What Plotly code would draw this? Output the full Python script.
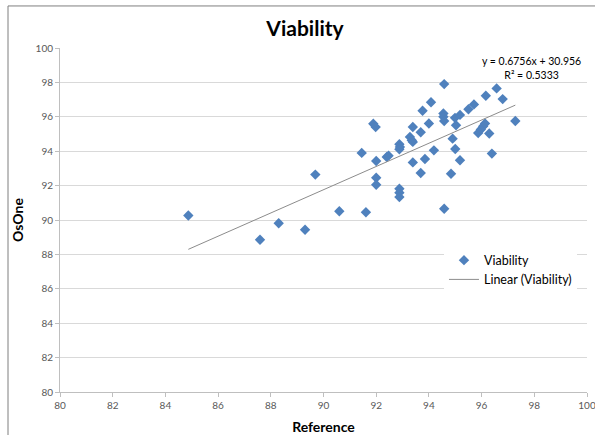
import plotly.graph_objects as go

# Data
reference = [84.87, 87.59, 88.30, 89.30, 89.69, 90.60, 91.61, 91.45, 91.89, 91.98,
             92.00, 92.00, 92.00, 92.40, 92.47, 92.88, 92.90, 92.88, 92.88, 92.88,
             92.88, 93.28, 93.35, 93.39, 93.39, 93.39, 93.69, 93.69, 93.76, 93.85,
             94.00, 94.08, 94.19, 94.58, 94.55, 94.55, 94.58, 94.58, 94.84, 94.90,
             94.99, 95.03, 95.00, 95.18, 95.18, 95.50, 95.71, 95.87, 95.97, 96.06,
             96.13, 96.16, 96.29, 96.39, 96.57, 96.80, 97.28]
osone = [90.26, 88.85, 89.81, 89.43, 92.64, 90.51, 90.45, 93.90, 95.60, 95.40,
         93.43, 92.46, 92.05, 93.66, 93.74, 94.40, 94.25, 94.11, 91.82, 91.59,
         91.33, 94.83, 94.64, 94.54, 95.41, 93.35, 95.10, 92.73, 96.35, 93.55,
         95.61, 96.85, 94.05, 97.90, 96.19, 96.00, 95.76, 90.65, 92.69, 94.73,
         95.94, 95.51, 94.13, 96.11, 93.47, 96.44, 96.72, 95.06, 95.26, 95.45,
         95.61, 97.22, 95.03, 93.86, 97.65, 97.03, 95.76]
SLOPE = 0.6756
INTERCEPT = 30.956
R2 = 0.5333
x_ticks = [80, 82, 84, 86, 88, 90, 92, 94, 96, 98, 100]
y_ticks = [80, 82, 84, 86, 88, 90, 92, 94, 96, 98, 100]

FONT = "Lato, 'Open Sans', sans-serif"
TXT = "#595959"

trend_x = [min(reference), max(reference)]
trend_y = [SLOPE * v + INTERCEPT for v in trend_x]

fig = go.Figure()
fig.add_trace(go.Scatter(
    x=reference, y=osone, mode="markers", name="Viability",
    marker=dict(symbol="diamond", size=8, color="#4F81BD"),
))
fig.add_trace(go.Scatter(
    x=trend_x, y=trend_y, mode="lines", name="Linear (Viability)",
    line=dict(color="#8c8c8c", width=1),
))

axis_common = dict(
    showline=True, linecolor="#bfbfbf", linewidth=1,
    ticks="outside", ticklen=4, tickcolor="#bfbfbf",
    tickfont=dict(family=FONT, size=10, color=TXT),
    zeroline=False, ticklabeloverflow="allow", automargin=False,
)

fig.update_layout(
    width=595, height=435,
    margin=dict(l=60, r=8, t=48, b=43, autoexpand=False),
    paper_bgcolor="white", plot_bgcolor="white",
    title=dict(text="<b>Viability</b>", x=305 / 595, xref="container",
               y=1 - 29 / 435, yref="container", xanchor="center", yanchor="middle",
               font=dict(family=FONT, size=21, color="black")),
    xaxis=dict(range=[80, 100], tickvals=x_ticks, showgrid=False,
               title=dict(text="<b>Reference</b>", standoff=12,
                          font=dict(family=FONT, size=14, color="black")),
               **axis_common),
    yaxis=dict(range=[80, 100], tickvals=y_ticks, showgrid=True,
               gridcolor="#d9d9d9", gridwidth=1,
               title=dict(text="<b>OsOne</b>", standoff=8,
                          font=dict(family=FONT, size=14, color="black")),
               **axis_common),
    legend=dict(x=0.74 - 6 / 527, y=0.42 + 2 / 343.7, xanchor="left", yanchor="top",
                bgcolor="white", borderwidth=0,
                font=dict(family=FONT, size=12.5, color="black"),
                itemwidth=30, tracegroupgap=0),
    showlegend=True,
)

fig.add_annotation(
    x=0.885 + 5 / 527, y=0.975 - 11 / 343.7, xref="paper", yref="paper", showarrow=False,
    text=f"y = {SLOPE}x + {INTERCEPT}<br>R² = {R2}", align="center",
    font=dict(family=FONT, size=10.5, color="black"), xanchor="center", yanchor="middle",
)

fig.add_shape(type="rect", xref="paper", yref="paper",
              x0=(8 - 60) / 527, x1=1.03, y0=-0.15, y1=(391.7 - 6) / 343.7,
              line=dict(color="#7f7f7f", width=1), fillcolor="rgba(0,0,0,0)", layer="below")

fig.write_html("out.html", config={"displayModeBar": False},
               post_script="document.body.style.margin='0';")
